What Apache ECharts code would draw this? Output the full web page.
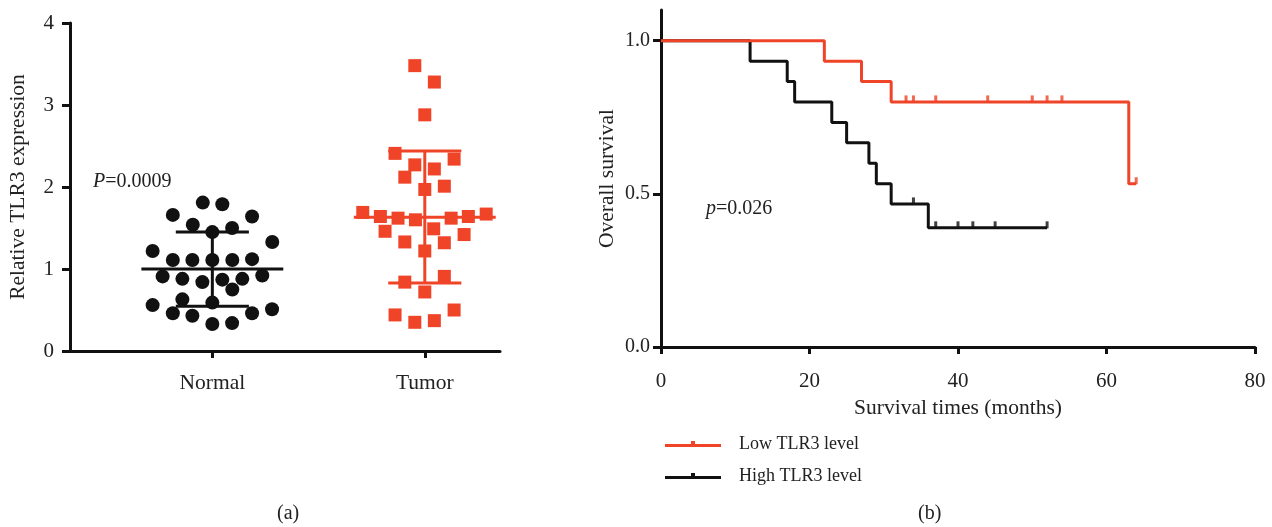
<!DOCTYPE html>
<html>
<head>
<meta charset="utf-8">
<title>TLR3</title>
<script src="https://cdn.jsdelivr.net/npm/echarts@6/dist/echarts.min.js"></script>
<style>
  html,body{margin:0;padding:0;background:#fff;}
  #main{width:1272px;height:527px;}
</style>
</head>
<body>
<div id="main"></div>
<script>
// (a) 散点：组位置 + 抖动偏移
var groupNames = ['Normal', 'Tumor'];
var normalOffset = [-0.045,0.047,-0.186,0.187,-0.092,0.093,0,0.282,-0.281,-0.186,
                    -0.094,0,0.094,0.187,-0.234,-0.141,-0.047,0.047,0.141,0.235,
                    0.094,-0.281,-0.141,0,0.281,-0.186,-0.094,0.187,0,0.093];
var normalVals = [1.81,1.79,1.66,1.64,1.54,1.50,1.45,1.33,1.22,1.11,
                  1.11,1.11,1.11,1.12,0.91,0.88,0.84,0.87,0.88,0.92,
                  0.75,0.56,0.63,0.59,0.51,0.46,0.43,0.46,0.33,0.34];
var tumorOffset = [-0.047,0.045,0,-0.14,0.138,-0.047,0.045,-0.094,0.092,0,
                   -0.292,-0.209,-0.126,-0.044,0.124,0.205,0.289,-0.187,0.042,0.185,
                   -0.094,0.092,0,0.092,-0.094,0,-0.14,0.138,-0.047,0.045];
var tumorVals = [3.48,3.28,2.88,2.41,2.34,2.27,2.22,2.12,2.01,1.97,
                 1.69,1.64,1.62,1.60,1.62,1.64,1.67,1.46,1.49,1.42,
                 1.33,1.32,1.22,0.91,0.84,0.72,0.44,0.50,0.35,0.37];
var meanVals = [1.0, 1.63];
var sdUpper = [1.45, 2.44];
var sdLower = [0.545, 0.83];
var exprTicks = [0, 1, 2, 3, 4];

// (b) 生存曲线
var lowTimes = [0, 22, 27, 31, 63, 64];
var lowSurv = [1, 0.933, 0.867, 0.8, 0.533, 0.533];
var lowCensorT = [33, 34, 37, 44, 50, 52, 54, 64];
var lowCensorS = [0.8, 0.8, 0.8, 0.8, 0.8, 0.8, 0.8, 0.533];
var highTimes = [0, 12, 17, 18, 23, 25, 28, 29, 31, 36, 52];
var highSurv = [1, 0.933, 0.867, 0.8, 0.733, 0.667, 0.6, 0.533, 0.467, 0.389, 0.389];
var highCensorT = [34, 37, 40, 42, 45, 52];
var highCensorS = [0.467, 0.389, 0.389, 0.389, 0.389, 0.389];
var survTicks = [0, 0.5, 1.0];
var timeTicks = [0, 20, 40, 60, 80];

var RED = '#EF4428', BLACK = '#111';
var FONT = 'Liberation Serif';

function pts(xs, ys, base) {
  var out = [];
  for (var i = 0; i < xs.length; i++) out.push([(base || 0) + xs[i], ys[i]]);
  return out;
}

var myChart = echarts.init(document.getElementById('main'));

var axisLine = {show: true, lineStyle: {color: BLACK, width: 3}};
var lbl = {color: '#222', fontFamily: FONT, fontSize: 20};
var nameStyle = {color: '#222', fontFamily: FONT, fontSize: 21.5};

var option = {
  animation: false,
  textStyle: {fontFamily: FONT},
  grid: [
    {left: 70, top: 23, width: 430, height: 328},
    {left: 661, top: 10, width: 594, height: 337}
  ],
  xAxis: [{
    gridIndex: 0, type: 'value', min: 0.33, max: 2.354,
    axisLine: axisLine, splitLine: {show: false},
    axisTick: {show: true, length: 7, lineStyle: {width: 3, color: BLACK}, customValues: [1, 2]},
    axisLabel: Object.assign({margin: 21, customValues: [1, 2],
      formatter: function (v) { return groupNames[Math.round(v) - 1] || ''; }}, lbl, {fontSize: 21.5})
  }, {
    gridIndex: 1, type: 'value', min: 0, max: 80, interval: 20,
    axisLine: axisLine, splitLine: {show: false},
    axisTick: {show: true, length: 7, lineStyle: {width: 3, color: BLACK}, customValues: timeTicks},
    axisLabel: Object.assign({margin: 24, customValues: timeTicks}, lbl, {fontSize: 21}),
    name: 'Survival times (months)', nameLocation: 'middle', nameGap: 48,
    nameTextStyle: nameStyle
  }],
  yAxis: [{
    gridIndex: 0, type: 'value', min: 0, max: 4, interval: 1,
    axisLine: axisLine, splitLine: {show: false},
    axisTick: {show: true, length: 8, lineStyle: {width: 3, color: BLACK}, customValues: exprTicks},
    axisLabel: Object.assign({margin: 16, customValues: exprTicks}, lbl, {fontSize: 21}),
    name: 'Relative TLR3 expression', nameLocation: 'middle', nameGap: 41,
    nameTextStyle: nameStyle
  }, {
    gridIndex: 1, type: 'value', min: 0, max: 1.1,
    axisLine: axisLine, splitLine: {show: false},
    axisTick: {show: true, length: 8, lineStyle: {width: 3, color: BLACK}, customValues: survTicks},
    axisLabel: Object.assign({margin: 11, customValues: survTicks,
      formatter: function (v) { return v.toFixed(1); }}, lbl),
    name: 'Overall survival', nameLocation: 'middle', nameGap: 43,
    nameTextStyle: nameStyle
  }],
  legend: {
    orient: 'vertical', left: 660, top: 430, itemGap: 14,
    itemWidth: 56, itemHeight: 7,
    icon: 'path://M0,3 L56,3 L56,6 L0,6 Z M26,0 L30,0 L30,3 L26,3 Z',
    textStyle: {color: '#222', fontFamily: FONT, fontSize: 18, padding: [0, 0, 0, 13]},
    data: ['Low TLR3 level', 'High TLR3 level']
  },
  series: [
    {type: 'scatter', xAxisIndex: 0, yAxisIndex: 0, symbol: 'circle', symbolSize: 14,
      itemStyle: {color: BLACK, opacity: 1}, data: pts(normalOffset, normalVals, 1)},
    {type: 'scatter', xAxisIndex: 0, yAxisIndex: 0, symbol: 'rect', symbolSize: 13,
      itemStyle: {color: RED, opacity: 1}, data: pts(tumorOffset, tumorVals, 2)},
    {
      // 均值 ± SD
      type: 'custom', xAxisIndex: 0, yAxisIndex: 0, z: 5,
      data: [[1, meanVals[0], sdUpper[0], sdLower[0]], [2, meanVals[1], sdUpper[1], sdLower[1]]],
      renderItem: function (params, api) {
        var x = api.value(0), m = api.value(1), hi = api.value(2), lo = api.value(3);
        var c = params.dataIndex === 0 ? BLACK : RED;
        var st = {stroke: c, lineWidth: 3};
        function seg(a, b) {
          var p1 = api.coord(a), p2 = api.coord(b);
          return {type: 'line', shape: {x1: p1[0], y1: p1[1], x2: p2[0], y2: p2[1]}, style: st};
        }
        return {type: 'group', children: [
          seg([x - 0.334, m], [x + 0.334, m]),
          seg([x, lo], [x, hi]),
          seg([x - 0.172, hi], [x + 0.172, hi]),
          seg([x - 0.172, lo], [x + 0.172, lo])
        ]};
      }
    },
    {name: 'Low TLR3 level', type: 'line', xAxisIndex: 1, yAxisIndex: 1, step: 'end',
      showSymbol: false, symbol: 'none', itemStyle: {color: RED},
      lineStyle: {color: RED, width: 3}, data: pts(lowTimes, lowSurv), z: 3},
    {name: 'High TLR3 level', type: 'line', xAxisIndex: 1, yAxisIndex: 1, step: 'end',
      showSymbol: false, symbol: 'none', itemStyle: {color: BLACK},
      lineStyle: {color: BLACK, width: 3}, data: pts(highTimes, highSurv), z: 2},
    {type: 'scatter', xAxisIndex: 1, yAxisIndex: 1, symbol: 'rect', symbolSize: [3, 7],
      symbolOffset: [0, -3], itemStyle: {color: RED}, data: pts(lowCensorT, lowCensorS), z: 4},
    {type: 'scatter', xAxisIndex: 1, yAxisIndex: 1, symbol: 'rect', symbolSize: [3, 7],
      symbolOffset: [0, -3], itemStyle: {color: BLACK}, data: pts(highCensorT, highCensorS), z: 4}
  ],
  graphic: [
    {type: 'text', left: 93, top: 172, style: {text: '{i|P}=0.0009', fill: '#222',
      font: '20px "Liberation Serif"', rich: {i: {fontStyle: 'italic', fontSize: 20, fontFamily: FONT}}}},
    {type: 'text', left: 706, top: 199, style: {text: '{i|p}=0.026', fill: '#222',
      font: '20px "Liberation Serif"', rich: {i: {fontStyle: 'italic', fontSize: 20, fontFamily: FONT}}}},
    {type: 'text', left: 277, top: 504, style: {text: '(a)', fill: '#222', font: '20px "Liberation Serif"'}},
    {type: 'text', left: 918, top: 504, style: {text: '(b)', fill: '#222', font: '20px "Liberation Serif"'}}
  ]
};
myChart.setOption(option);
</script>
</body>
</html>
